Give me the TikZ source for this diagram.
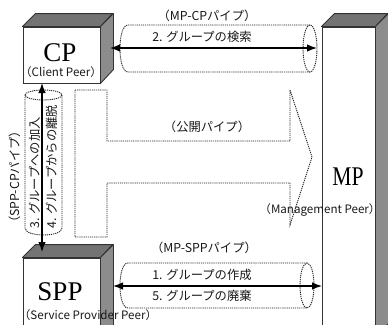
\documentclass[tikz,border=0pt]{standalone}
\usepackage{fontspec}
\newfontfamily\jp{Noto Sans CJK JP}
\newfontfamily\ser{Liberation Serif}
\usetikzlibrary{arrows.meta}
\begin{document}
\begin{tikzpicture}[x=1pt,y=-1pt,
  frontbox/.style={draw=black!80, line width=0.9pt, fill=white, inner sep=0pt},
  topface/.style={fill=black!55, draw=black!80, line width=0.9pt, line join=round},
  sideface/.style={fill=black!45, draw=black!80, line width=0.9pt, line join=round},
  pipe/.style={draw=black!85, line width=0.9pt, dash pattern=on 1.2pt off 0.9pt},
  conn/.style={line width=1.3pt, {Latex[length=10pt,width=7.5pt]}-{Latex[length=10pt,width=7.5pt]}},
  jplabel/.style={font=\jp\fontsize{12.3}{13}\selectfont, text=black!90, inner sep=0pt},
  enlabel/.style={font=\jp\fontsize{11.6}{12}\selectfont, text=black!90, inner sep=0pt},
  biglabel/.style={font=\ser\fontsize{27}{28}\selectfont, inner sep=0pt}]
\useasboundingbox (0,0) rectangle (388,324);
\clip (0,0) rectangle (388,324);
\fill[white] (0,0) rectangle (388,324);

% ---- pipes ----
% MP-CP pipe
\draw[pipe] (310,25) -- (128,25) .. controls (117.3,25) and (117.3,72) .. (128,72) -- (310,72);
\draw[pipe] (310,48.5) ellipse [x radius=7, y radius=23.5];
% MP-SPP pipe
\draw[pipe] (307,263) -- (128,263) .. controls (117.3,263) and (117.3,308) .. (128,308) -- (307,308);
\draw[pipe] (307,285.5) ellipse [x radius=7, y radius=22.5];
% SPP-CP pipe (vertical)
\draw[pipe] (25,95) -- (25,228) .. controls (25,237.3) and (62,237.3) .. (62,228) -- (62,95);
\draw[pipe] (43.5,95) ellipse [x radius=18.5, y radius=5];
% public pipe (T-shaped arrow)
\draw[pipe] (75,90) -- (107,90) -- (107,141) -- (290,141) -- (290,90) -- (312,157)
  -- (290,225) -- (290,183) -- (107,183) -- (107,237) -- (75,237) -- cycle;

% ---- boxes ----
% CP
\node[frontbox, minimum width=77pt, minimum height=56pt] (cp) at (61.5,55) {};
\draw[topface] (cp.north west) -- ++(13,-13) -- ++(77,0) -- (cp.north east) -- cycle;
\draw[sideface] (cp.north east) -- ++(13,-13) -- ++(0,56) -- (cp.south east) -- cycle;
% MP
\node[frontbox, minimum width=53pt, minimum height=310pt] (mp) at (348.5,182) {};
\draw[topface] (mp.north west) -- ++(13,-13) -- ++(53,0) -- (mp.north east) -- cycle;
\draw[sideface] (mp.north east) -- ++(13,-13) -- ++(0,310) -- (mp.south east) -- cycle;
% SPP
\node[frontbox, minimum width=77pt, minimum height=90pt] (spp) at (61.5,303) {};
\draw[topface] (spp.north west) -- ++(13,-13) -- ++(77,0) -- (spp.north east) -- cycle;
\draw[sideface] (spp.north east) -- ++(13,-13) -- ++(0,90) -- (spp.south east) -- cycle;

% ---- box labels ----
\node[biglabel] (cpt) at (60,53) {CP};
\node[enlabel] (cpe) at (61,72) {（Client Peer）};
\node[biglabel, xscale=0.8] (mpt) at (348,177) {MP};
\node[enlabel] (mpe) at (320,210) {（Management Peer）};
\node[biglabel] (sppt) at (60,292) {SPP};
\node[enlabel] (sppe) at (88,315) {（Service Provider Peer）};

% ---- pipe labels ----
\node[jplabel] (l1) at (207,16) {（MP-CPパイプ）};
\node[jplabel] (l2) at (202,37) {2. グループの検索};
\node[jplabel] (l3) at (207,127) {（公開パイプ）};
\node[jplabel] (l4) at (204,248) {（MP-SPPパイプ）};
\node[jplabel] (l5) at (202,275) {1. グループの作成};
\node[jplabel] (l6) at (202,296) {5. グループの廃棄};
\node[jplabel, rotate=90, anchor=west] (l7) at (15,229) {（SPP-CPパイプ）};
\node[jplabel, rotate=90, anchor=west] (l8) at (35,229) {3. グループへの加入};
\node[jplabel, rotate=90, anchor=west] (l9) at (52,229) {4. グループからの離脱};

% ---- connectors ----
\coordinate (c1) at (110,48);
\coordinate (c2) at (317,48);
\coordinate (c3) at (113,286);
\coordinate (c4) at (322,286);
\coordinate (c5) at (42,83);
\coordinate (c6) at (42,252);
\draw[conn] (c1) -- (c2);
\draw[conn] (c3) -- (c4);
\draw[conn] (c5) -- (c6);
\end{tikzpicture}
\end{document}
